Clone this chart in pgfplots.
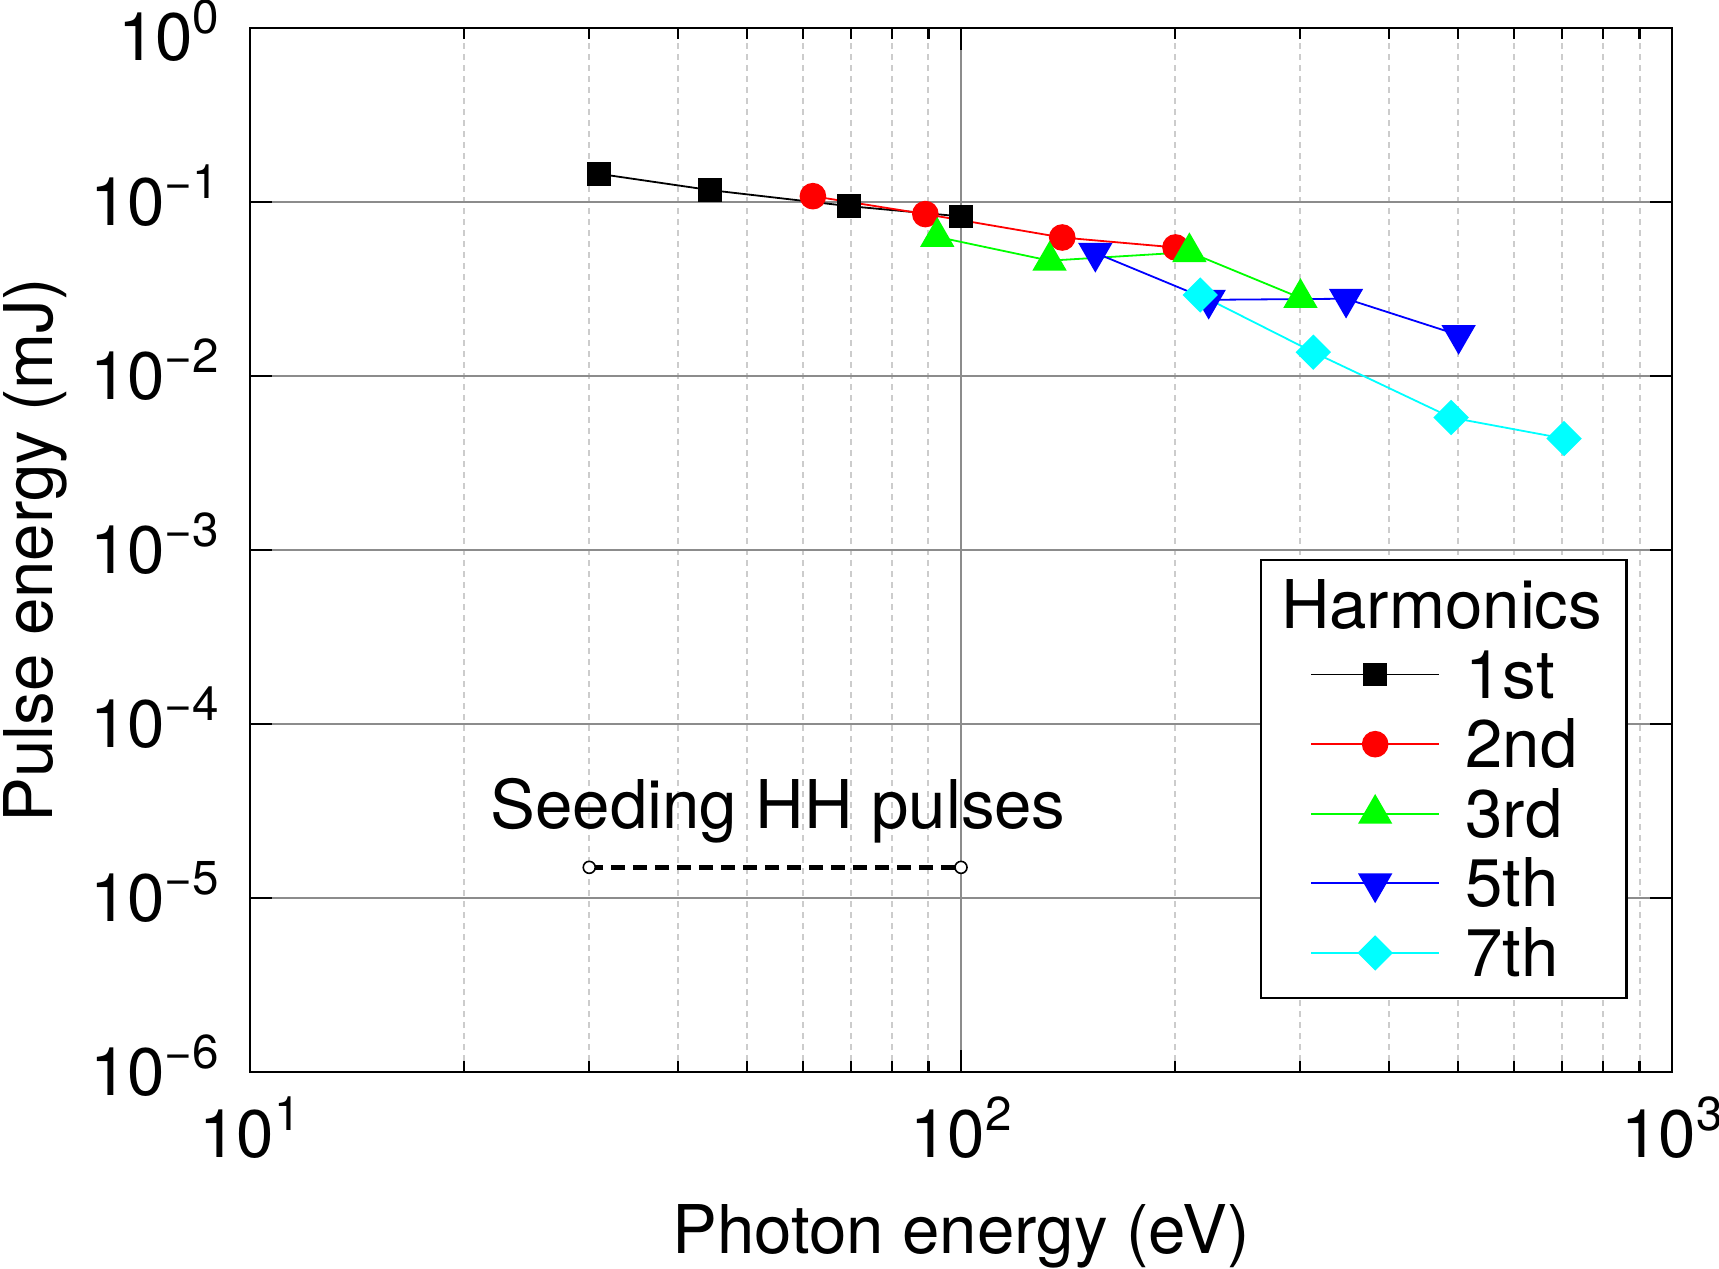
\documentclass[border=0pt]{standalone}
\usepackage{fontspec}
\setmainfont{TeX Gyre Heros}
\usepackage{pgfplots}
\pgfplotsset{compat=1.18}
\definecolor{mycyan}{RGB}{0,255,255}
\definecolor{mygreen}{RGB}{0,255,0}
\definecolor{myblue}{RGB}{0,0,255}
\definecolor{myred}{RGB}{255,0,0}
\newcommand{\tp}[1]{10\raisebox{6.75pt}{\fontsize{11.9}{12}\selectfont #1}}
\begin{document}
\fontsize{16.8}{19.5}\selectfont
\begin{tikzpicture}
\useasboundingbox (-62.5pt,-49.25pt) rectangle (367.25pt,268pt);
\begin{axis}[
  at={(0,0)}, anchor=south west,
  scale only axis, width=355.5pt, height=261pt,
  xmode=log, ymode=log,
  xmin=10, xmax=1000, ymin=1e-6, ymax=1,
  xtick={10,100,1000}, xticklabels={\tp{1},\tp{2},\tp{3}},
  ytick={1e-6,1e-5,1e-4,1e-3,1e-2,1e-1,1},
  yticklabels={\tp{−6},\tp{−5},\tp{−4},\tp{−3},\tp{−2},\tp{−1},\raisebox{-2.3pt}{\tp{0}}},
  minor xtick={20,30,40,50,60,70,80,90,200,300,400,500,600,700,800,900},
  yminorticks=false,
  xmajorgrids=true, ymajorgrids=true, xminorgrids=true, yminorgrids=false,
  major tick length=5.5pt, minor tick length=2.75pt,
  tick style={black, line width=0.7pt},
  minor tick style={black, line width=0.55pt},
  axis line style={line width=0.7pt},
  major grid style={line width=0.5pt, black!45, solid},
  minor grid style={line width=0.5pt, black!20, dash pattern=on 1.5pt off 1.25pt},
  xticklabel style={inner sep=0pt, anchor=base, yshift=-21.25pt},
  yticklabel style={inner sep=0pt, anchor=base east, xshift=-7.5pt, yshift=-5.95pt},
  xlabel={Photon energy (eV)}, ylabel={Pulse energy (mJ)},
  xlabel style={at={(axis description cs:0.5,-0.1743)}, anchor=base, inner sep=0pt},
  ylabel style={at={(axis description cs:-0.1392,0.5)}, anchor=base, inner sep=0pt},
  legend style={at={(0.7103,0.4914)}, anchor=north west, draw=black, line width=0.6pt,
    inner xsep=12.25pt, inner ysep=2.5pt, column sep=6.35pt, row sep=0pt,
    nodes={inner sep=0pt, text height=14.6pt, text depth=2.8pt}},
  legend cell align=left,
  legend image code/.code={\draw[mark repeat=2,mark phase=2,#1] plot coordinates {(0pt,0pt) (16pt,0pt) (32pt,0pt)};},
]
\addlegendimage{empty legend}
\addlegendentry{\makebox[0pt][l]{\hspace*{-46.6pt}Harmonics}}

\addplot[black, line width=0.45pt, mark=square*, mark size=2.75pt, mark options={solid}]
  coordinates {(31.0,0.145) (44.4,0.117) (69.5,0.0947) (100,0.0826)};
\addlegendentry{1st}
\addplot[myred, line width=0.45pt, mark=*, mark size=3.1pt, mark options={solid}]
  coordinates {(61.9,0.108) (89.1,0.0852) (138.8,0.0625) (200.3,0.0548)};
\addlegendentry{2nd}
\addplot[mygreen, line width=0.45pt, mark=triangle*, mark size=4.5pt, mark options={solid}]
  coordinates {(92.6,0.063) (133.2,0.046) (209.5,0.0515) (300.2,0.0281)};
\addlegendentry{3rd}
\addplot[myblue, line width=0.45pt, mark=triangle*, mark size=4.5pt, mark options={solid, rotate=180}]
  coordinates {(154.5,0.051) (223,0.0274) (348,0.0278) (501,0.0172)};
\addlegendentry{5th}
\addplot[mycyan, line width=0.45pt, mark=square*, mark size=2.9pt, mark options={solid, rotate=45}]
  coordinates {(217,0.0292) (313,0.0137) (489,0.00577) (705,0.00437)};
\addlegendentry{7th}

\addplot[black, line width=1.1pt, dash pattern=on 3.4pt off 2.1pt, mark=*, mark size=1.5pt,
  mark options={solid, fill=white, draw=black, line width=0.4pt}, forget plot]
  coordinates {(30,1.5e-5) (100,1.5e-5)};
\node[anchor=base, inner sep=0pt] at (axis cs:55.3,2.525e-5) {Seeding HH pulses};
\end{axis}
\end{tikzpicture}
\end{document}
